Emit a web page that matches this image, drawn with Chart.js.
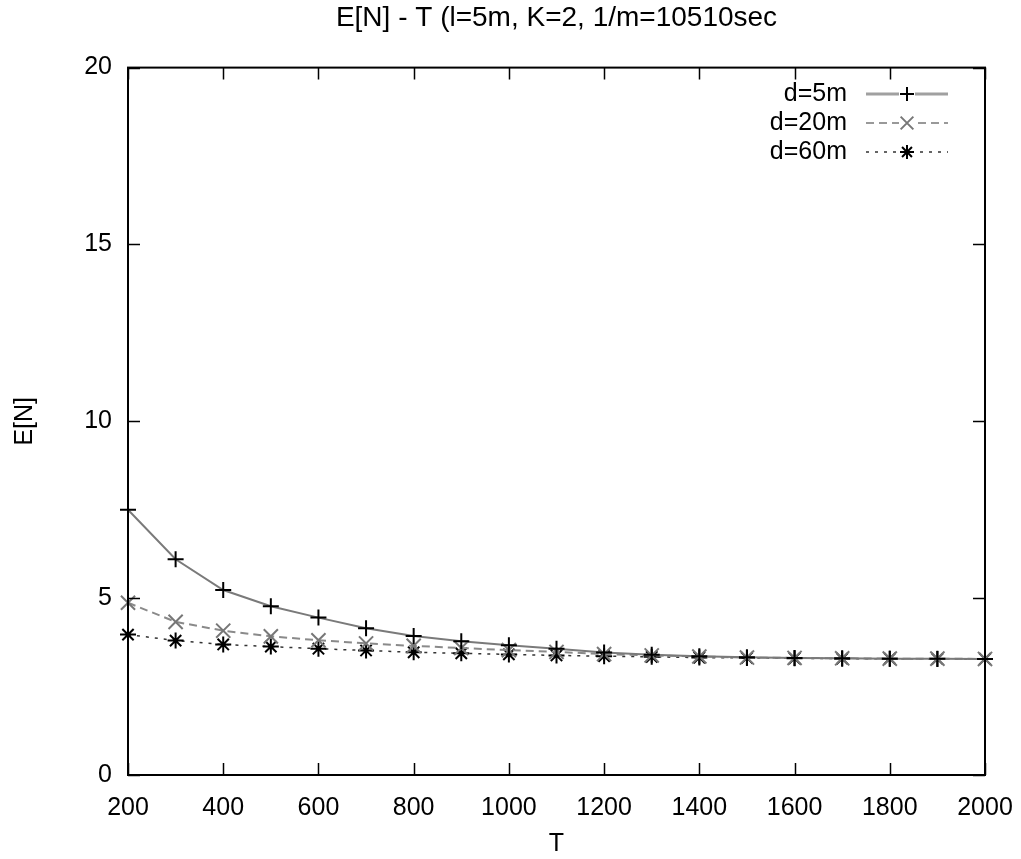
<!DOCTYPE html>
<html>
<head>
<meta charset="utf-8">
<script src="https://cdn.jsdelivr.net/npm/chart.js@4/dist/chart.umd.min.js"></script>
<style>
  html, body { margin: 0; padding: 0; background: #fff; }
  #wrap { width: 1021px; height: 859px; }
</style>
</head>
<body>
<div id="wrap"><canvas id="c" width="1021" height="859"></canvas></div>
<script>
const TITLE = 'E[N] - T (l=5m, K=2, 1/m=10510sec';
const X_LABEL = 'T';
const Y_LABEL = 'E[N]';
const T_VALUES = [200, 300, 400, 500, 600, 700, 800, 900, 1000, 1100, 1200, 1300, 1400, 1500, 1600, 1700, 1800, 1900, 2000];
const SERIES_NAMES = ['d=5m', 'd=20m', 'd=60m'];
const D5 = [7.5, 6.1, 5.23, 4.77, 4.45, 4.15, 3.93, 3.78, 3.67, 3.57, 3.46, 3.4, 3.36, 3.33, 3.31, 3.3, 3.29, 3.29, 3.28];
const D20 = [4.87, 4.33, 4.08, 3.92, 3.81, 3.72, 3.65, 3.59, 3.53, 3.48, 3.42, 3.38, 3.35, 3.32, 3.31, 3.3, 3.29, 3.29, 3.28];
const D60 = [3.97, 3.8, 3.69, 3.63, 3.57, 3.52, 3.47, 3.44, 3.41, 3.38, 3.36, 3.34, 3.32, 3.31, 3.3, 3.29, 3.29, 3.28, 3.28];
const X_TICKS = [200, 400, 600, 800, 1000, 1200, 1400, 1600, 1800, 2000];
const Y_TICKS = [0, 5, 10, 15, 20];

const FONT = '"Liberation Sans", Arial, sans-serif';
const FS = 25;

function pts(vals) { return T_VALUES.map((t, i) => ({ x: t, y: vals[i] })); }

const datasets = [
  { label: SERIES_NAMES[0], data: pts(D5), borderColor: '#7a7a7a', borderWidth: 2, borderDash: [],
    pointStyle: 'cross', pointRadius: 8, pointBorderColor: '#000', pointBorderWidth: 2, pointBackgroundColor: '#000',
    legendLine: '#a0a0a0', legendLineWidth: 3, legendMarker: '#000', legendRadius: 7 },
  { label: SERIES_NAMES[1], data: pts(D20), borderColor: '#8a8a8a', borderWidth: 2, borderDash: [8, 5],
    pointStyle: 'crossRot', pointRadius: 10, pointBorderColor: '#777', pointBorderWidth: 2, pointBackgroundColor: '#777',
    legendLine: '#999', legendLineWidth: 2, legendMarker: '#777', legendRadius: 9 },
  { label: SERIES_NAMES[2], data: pts(D60), borderColor: '#333', borderWidth: 1.5, borderDash: [3, 6],
    pointStyle: 'star', pointRadius: 8, pointBorderColor: '#000', pointBorderWidth: 2, pointBackgroundColor: '#000',
    legendLine: '#333', legendLineWidth: 1.5, legendMarker: '#000', legendRadius: 7 }
];
datasets.forEach(d => { d.fill = false; d.tension = 0; d.order = 0; d.clip = false; });

const framePlugin = {
  id: 'frame',
  afterDatasetsDraw(chart) {
    const { ctx, chartArea: a, scales } = chart;
    ctx.save();
    ctx.strokeStyle = '#000';
    ctx.lineWidth = 2;
    ctx.setLineDash([]);
    ctx.strokeRect(a.left, a.top, a.right - a.left, a.bottom - a.top);
    ctx.lineWidth = 1.5;
    const L = 12;
    ctx.beginPath();
    X_TICKS.forEach(v => {
      const x = Math.round(scales.x.getPixelForValue(v)) + 0.5;
      ctx.moveTo(x, a.bottom); ctx.lineTo(x, a.bottom - L);
      ctx.moveTo(x, a.top); ctx.lineTo(x, a.top + L);
    });
    Y_TICKS.forEach(v => {
      const y = Math.round(scales.y.getPixelForValue(v)) + 0.5;
      ctx.moveTo(a.left, y); ctx.lineTo(a.left + L, y);
      ctx.moveTo(a.right, y); ctx.lineTo(a.right - L, y);
    });
    ctx.stroke();

    // legend (gnuplot style, top right inside)
    ctx.font = FS + 'px ' + FONT;
    ctx.textAlign = 'right';
    ctx.textBaseline = 'middle';
    const textRight = 847, lineL = 866, lineR = 948, mx = 907;
    chart.data.datasets.forEach((d, i) => {
      const y = 94 + i * 29;
      ctx.fillStyle = '#000';
      ctx.fillText(d.label, textRight, y);
      ctx.strokeStyle = d.legendLine;
      ctx.lineWidth = d.legendLineWidth;
      ctx.setLineDash(d.borderDash);
      ctx.beginPath(); ctx.moveTo(lineL, y); ctx.lineTo(lineR, y); ctx.stroke();
      ctx.setLineDash([]);
      ctx.clearRect(mx - 8, y - 8, 16, 16);
      ctx.strokeStyle = d.legendMarker;
      ctx.fillStyle = d.legendMarker;
      ctx.lineWidth = d.pointBorderWidth;
      Chart.helpers.drawPoint(ctx, { pointStyle: d.pointStyle, radius: d.legendRadius, borderWidth: d.pointBorderWidth }, mx, y);
    });
    ctx.restore();
  }
};

new Chart(document.getElementById('c'), {
  type: 'line',
  data: { datasets },
  plugins: [framePlugin],
  options: {
    responsive: false,
    animation: false,
    devicePixelRatio: 1,
    layout: { padding: { left: 0, right: 36, top: 0, bottom: 0 } },
    plugins: {
      legend: { display: false },
      tooltip: { enabled: false },
      title: {
        display: true, text: TITLE, color: '#000', fullSize: false,
        font: { family: FONT, size: 28, weight: 'normal' },
        padding: { top: 1, bottom: 33 }
      }
    },
    scales: {
      x: {
        type: 'linear', min: 200, max: 2000,
        grid: { display: false, drawTicks: false },
        border: { display: false },
        afterBuildTicks: s => { s.ticks = X_TICKS.map(v => ({ value: v })); },
        afterFit: s => { s.height = 859 - 775; s.paddingLeft = 0; s.paddingRight = 0; },
        ticks: { color: '#000', padding: 18, font: { family: FONT, size: FS }, maxRotation: 0, autoSkip: false,
                 callback: v => String(v) },
        title: { display: true, text: X_LABEL, color: '#000', font: { family: FONT, size: FS }, padding: { top: 0, bottom: 0 } }
      },
      y: {
        type: 'linear', min: 0, max: 20,
        grid: { display: false, drawTicks: false },
        border: { display: false },
        afterBuildTicks: s => { s.ticks = Y_TICKS.map(v => ({ value: v })); },
        afterFit: s => { s.width = 128; s.paddingTop = 0; s.paddingBottom = 0; },
        ticks: { color: '#000', padding: 16, font: { family: FONT, size: FS }, callback: v => String(v) },
        title: { display: true, text: Y_LABEL, color: '#000', font: { family: FONT, size: FS }, padding: { top: 10, bottom: 0 } }
      }
    }
  }
});
</script>
</body>
</html>
